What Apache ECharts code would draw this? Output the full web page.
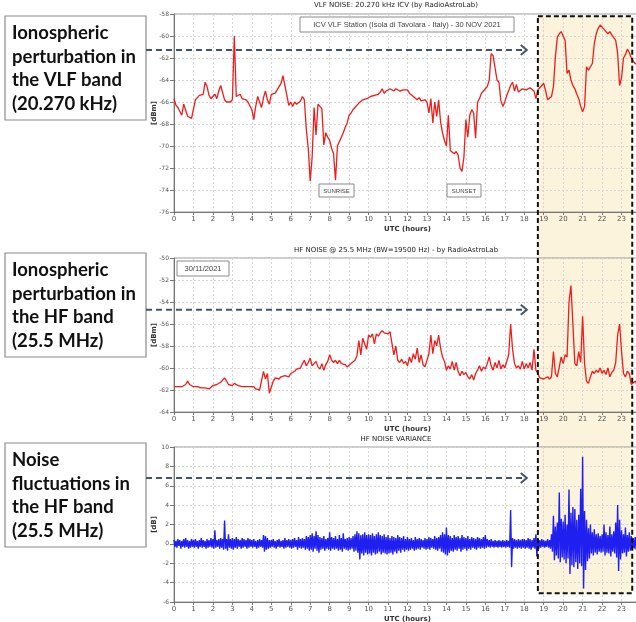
<!DOCTYPE html>
<html>
<head>
<meta charset="utf-8">
<script src="https://cdn.jsdelivr.net/npm/echarts@6/dist/echarts.min.js"></script>
<style>
  html, body { margin: 0; padding: 0; background: #fff; }
  #chart { width: 636px; height: 622px; }
</style>
</head>
<body>
<div id="chart"></div>
<script>
// samples every 0.1 h, starting at 00:00 UTC
const STEP = 0.1;

// VLF noise 20.270 kHz [dBm]
const vlfDbm = [
  -65.7, -66.3, -66.5, -66.6, -67.2, -66.2, -66.3, -67.3, -67.4, -67.5,
  -67.6, -65.8, -65.6, -65.4, -65.4, -65.3, -64.2, -64.6, -65.4, -65.7,
  -65.8, -65.3, -65.7, -65.0, -64.5, -64.6, -65.8, -66.0, -66.1, -66.0,
  -65.8, -60.0, -65.5, -65.6, -65.3, -65.7, -65.7, -65.8, -66.0, -66.1,
  -66.7, -67.6, -66.4, -65.5, -65.6, -66.5, -65.6, -65.0, -65.8, -66.2,
  -65.3, -65.4, -65.2, -64.9, -64.6, -64.3, -63.6, -64.5, -65.4, -66.3,
  -66.0, -66.4, -66.0, -66.2, -66.1, -65.9, -65.5, -65.8, -68.5, -70.2,
  -73.2, -71.0, -66.5, -69.0, -66.2, -66.3, -66.6, -69.9, -68.8, -69.2,
  -69.5, -70.2, -70.7, -73.1, -70.0, -69.6, -69.7, -68.8, -68.3, -67.9,
  -67.2, -67.0, -66.7, -66.5, -66.4, -66.1, -66.0, -65.8, -65.9, -65.7,
  -65.6, -65.5, -65.6, -65.4, -65.4, -65.3, -65.1, -64.8, -65.2, -65.0,
  -64.9, -64.8, -64.9, -65.0, -64.8, -64.7, -65.0, -65.1, -64.9, -64.8,
  -64.9, -65.2, -65.3, -65.5, -65.6, -65.8, -65.6, -65.9, -66.0, -65.8,
  -66.0, -67.0, -65.7, -67.9, -66.0, -67.3, -65.8, -67.8, -68.8, -69.5,
  -70.0, -67.2, -70.4, -70.5, -70.7, -70.5, -70.8, -72.0, -72.3, -71.0,
  -67.6, -69.2, -67.2, -66.7, -67.0, -69.3, -66.0, -65.7, -65.2, -65.0,
  -64.8, -64.6, -64.0, -61.6, -61.8, -61.9, -64.0, -64.2, -65.9, -66.4,
  -66.0, -65.4, -65.5, -64.5, -64.2, -65.0, -64.4, -65.1, -65.0, -64.8,
  -64.8, -64.9, -65.0, -64.7, -64.8, -65.0, -65.7, -64.9, -64.7, -64.5,
  -64.3, -65.0, -65.8, -65.9, -65.5, -64.6, -61.9, -60.1, -59.8, -59.6,
  -59.5, -60.4, -63.4, -63.1, -64.0, -64.5, -64.8, -65.3, -65.7, -66.4,
  -66.9, -66.4, -62.8, -63.1, -63.0, -62.5, -60.7, -59.8, -59.3, -59.0,
  -59.1, -59.4, -59.6, -59.8, -59.6, -59.9, -59.8, -60.4, -61.6, -64.5,
  -63.8, -62.0, -61.7, -61.2, -61.5, -62.0, -62.3, -62.5, -62.6, -62.6
];

// HF noise 25.5 MHz [dBm]
const hfDbm = [
  -61.7, -61.8, -61.7, -61.8, -61.7, -61.6, -61.5, -61.2, -61.5, -61.6,
  -61.7, -61.6, -61.7, -61.6, -61.8, -61.7, -61.8, -61.7, -61.9, -61.8,
  -61.6, -61.7, -61.5, -61.6, -61.3, -61.2, -60.9, -61.2, -61.5, -61.6,
  -61.6, -61.4, -61.5, -61.6, -61.5, -61.7, -61.6, -61.7, -61.6, -61.7,
  -61.8, -61.7, -61.9, -61.8, -62.0, -61.9, -60.3, -61.0, -60.5, -62.3,
  -62.2, -61.2, -60.9, -60.8, -61.0, -60.8, -60.9, -60.7, -60.6, -60.8,
  -60.5, -60.6, -60.3, -60.1, -60.2, -60.0, -59.6, -59.3, -59.8, -59.5,
  -59.1, -59.8, -59.6, -59.4, -59.9, -60.1, -59.6, -60.2, -59.7, -59.4,
  -58.8, -59.3, -59.5, -59.3, -59.6, -59.3, -59.6, -59.5, -59.7, -59.9,
  -59.8, -59.6, -59.5, -59.3, -58.9, -57.5, -58.8, -57.3, -57.2, -58.3,
  -57.0, -57.2, -56.9, -57.8, -56.9, -57.1, -56.8, -56.6, -56.8, -56.7,
  -56.9, -56.7, -56.6, -58.8, -58.0, -59.3, -59.5, -59.2, -59.6, -59.4,
  -59.8, -59.0, -59.5, -58.7, -59.2, -58.2, -59.5, -58.8, -59.7, -59.9,
  -59.8, -58.7, -57.0, -58.7, -57.5, -58.0, -57.0, -58.2, -59.0, -59.4,
  -60.2, -59.8, -60.1, -59.4, -60.2, -59.5, -60.3, -60.7, -60.3, -60.6,
  -60.4, -60.8, -61.0, -60.6, -61.1, -60.5, -60.2, -59.8, -60.3, -59.9,
  -60.1, -59.6, -59.0, -59.8, -60.2, -59.5, -60.0, -59.3, -60.1, -59.7,
  -60.0, -59.9, -58.8, -56.0, -58.3, -59.6, -60.0, -59.8, -60.1, -59.4,
  -60.1, -59.6, -60.0, -59.5, -60.2, -58.3, -60.2, -60.5, -60.9, -61.0,
  -61.0, -61.1, -60.8, -61.0, -60.8, -58.5, -60.5, -60.8, -60.7, -59.0,
  -59.6, -58.8, -59.0, -54.0, -52.5, -56.0, -59.6, -59.8, -58.5, -59.5,
  -55.3, -59.6, -61.2, -61.4, -60.8, -60.3, -60.5, -60.2, -60.4, -60.0,
  -60.5, -60.2, -60.6, -60.0, -60.8, -60.4, -60.2, -59.5, -57.0, -56.0,
  -58.5, -60.5, -60.8, -60.3, -60.5, -61.5, -61.6, -61.2, -61.5, -61.4
];

// HF noise variance [dB]: upper and lower excursion in each 0.1 h bin
const varHigh = [
  0.4, 0.3, 0.5, 0.4, 0.3, 0.5, 0.6, 0.4, 0.3, 0.5,
  0.4, 0.5, 0.3, 0.4, 0.6, 0.4, 0.3, 0.5, 0.4, 0.6,
  0.5, 1.4, 0.4, 0.5, 0.6, 0.5, 2.4, 0.5, 1.0, 0.5,
  0.6, 0.5, 0.7, 0.5, 0.4, 0.6, 0.5, 0.4, 0.6, 0.5,
  0.4, 0.5, 0.3, 0.4, 0.5, 0.4, 0.9, 0.8, 0.6, 0.4,
  0.4, 0.5, 0.3, 0.4, 0.5, 0.3, 0.4, 0.6, 0.4, 0.5,
  0.4, 0.5, 0.6, 0.4, 0.7, 0.5, 0.6, 0.5, 0.8, 0.7,
  0.9, 1.1, 0.8, 1.3, 0.9, 0.7, 0.6, 0.8, 0.5, 0.6,
  1.2, 0.7, 0.6, 0.8, 0.5, 0.9, 0.6, 1.1, 0.5, 0.6,
  0.7, 0.6, 0.8, 1.0, 1.3, 1.1, 0.9, 1.0, 1.2, 0.9,
  1.0, 0.9, 1.1, 0.8, 1.0, 1.2, 0.9, 0.8, 1.0, 0.7,
  0.9, 0.6, 0.8, 0.7, 0.6, 0.9, 0.7, 0.6, 0.8, 0.5,
  0.7, 0.5, 0.6, 0.4, 0.7, 0.5, 0.6, 0.5, 0.4, 0.6,
  0.5, 0.7, 0.6, 0.5, 0.8, 0.6, 0.7, 0.9, 1.2, 1.0,
  1.7, 0.9, 0.8, 0.6, 0.9, 0.7, 0.8, 0.6, 0.9, 0.7,
  0.6, 0.8, 0.5, 0.7, 0.6, 0.5, 0.7, 0.6, 0.5, 0.7,
  0.9, 0.5, 0.4, 0.5, 0.3, 0.4, 0.3, 0.4, 0.3, 0.4,
  0.3, 0.4, 0.3, 3.5, 0.6, 0.5, 0.4, 0.5, 0.4, 0.5,
  0.5, 0.4, 0.6, 0.5, 0.4, 0.6, 1.0, 0.5, 0.4, 0.5,
  0.4, 0.3, 0.5, 0.4, 1.0, 2.9, 1.8, 2.2, 5.3, 2.6,
  2.3, 3.0, 2.0, 5.6, 3.2, 3.8, 3.6, 2.5, 3.0, 5.7,
  9.0, 3.4, 2.5, 1.6, 2.0, 1.2, 1.5, 1.0, 1.1, 0.8,
  1.0, 2.0, 1.2, 0.9, 1.8, 1.0, 1.3, 2.2, 4.0, 2.5,
  1.4, 1.0, 1.7, 0.9, 1.2, 0.8, 0.6, 0.7, 0.6, 0.5
];
const varLow = [
  -0.3, -0.4, -0.2, -0.5, -0.3, -0.4, -0.3, -0.5, -0.4, -0.3,
  -0.4, -0.3, -0.5, -0.3, -0.4, -0.3, -0.5, -0.4, -0.3, -0.4,
  -0.5, -0.4, -0.3, -0.5, -0.4, -0.6, -0.5, -0.7, -0.4, -0.5,
  -0.6, -0.4, -0.5, -0.3, -0.5, -0.4, -0.3, -0.5, -0.4, -0.3,
  -0.4, -0.3, -0.5, -0.4, -0.3, -0.4, -0.8, -0.6, -0.5, -0.4,
  -0.3, -0.4, -0.5, -0.3, -0.4, -0.3, -0.5, -0.4, -0.3, -0.4,
  -0.5, -0.4, -0.3, -0.6, -0.4, -0.5, -0.4, -0.6, -0.5, -0.7,
  -0.6, -0.8, -0.5, -0.7, -0.9, -0.6, -0.5, -0.7, -0.5, -0.6,
  -0.7, -0.5, -0.6, -0.5, -0.7, -0.6, -0.8, -0.5, -0.6, -0.7,
  -0.6, -0.5, -0.8, -0.7, -0.9, -1.6, -1.0, -1.2, -0.9, -1.1,
  -1.0, -1.2, -0.9, -1.1, -1.0, -0.8, -1.1, -0.9, -1.0, -1.1,
  -1.0, -0.9, -1.1, -0.8, -1.0, -0.7, -0.9, -0.6, -0.8, -0.6,
  -0.7, -0.6, -0.5, -0.7, -0.6, -0.5, -0.6, -0.4, -0.5, -0.6,
  -0.5, -0.6, -0.4, -0.5, -0.6, -0.7, -0.5, -0.8, -0.9, -1.1,
  -1.2, -0.9, -0.7, -0.8, -0.6, -0.7, -0.5, -0.8, -0.6, -0.5,
  -0.7, -0.5, -0.6, -0.4, -0.5, -0.6, -0.4, -0.5, -0.4, -0.5,
  -0.4, -0.3, -0.4, -0.3, -0.4, -0.3, -0.4, -0.3, -0.4, -0.3,
  -0.4, -0.3, -0.4, -2.4, -0.5, -0.4, -0.5, -0.4, -0.5, -0.4,
  -0.5, -0.4, -0.5, -0.6, -0.4, -0.5, -1.3, -0.5, -0.4, -0.3,
  -0.4, -0.3, -0.4, -0.5, -0.8, -1.7, -1.2, -1.5, -1.9, -1.4,
  -1.6, -2.0, -1.5, -3.1, -2.2, -2.4, -1.9, -2.6, -2.0, -2.3,
  -4.6, -2.7, -1.8, -1.5, -1.0, -1.2, -0.9, -1.1, -0.8, -0.9,
  -0.8, -1.2, -0.9, -1.0, -1.3, -0.8, -1.0, -1.4, -2.8, -1.6,
  -1.0, -0.9, -1.3, -0.8, -0.7, -0.6, -0.5, -0.6, -0.5, -0.4
];

// axis ranges [min, max, interval]
const hourRange = [0, 24, 1];
const vlfRange = [-76, -58, 2];
const hfRange = [-64, -50, 2];
const varRange = [-6, 10, 2];

// perturbation window (hours) and arrow end (hours)
const eventStart = 18.7, eventEnd = 23.55, arrowEnd = 18.13;

const leftLabels = [
  'Ionospheric\nperturbation in\nthe VLF band\n(20.270 kHz)',
  'Ionospheric\nperturbation in\nthe HF band\n(25.5 MHz)',
  'Noise\nfluctuations in\nthe HF band\n(25.5 MHz)'
];
const panelTitles = [
  'VLF NOISE: 20.270 kHz ICV (by RadioAstroLab)',
  'HF NOISE @ 25.5 MHz (BW=19500 Hz) - by RadioAstroLab',
  'HF NOISE VARIANCE'
];

const toPoints = arr => arr.map((v, i) => [+(i * STEP).toFixed(2), v]);
const varPoints = [];
varHigh.forEach((hi, i) => {
  varPoints.push([i * STEP, hi]);
  varPoints.push([i * STEP + STEP / 2, varLow[i]]);
});

const small = 'DejaVu Sans';

function xAxisFor(i) {
  return {
    type: 'value', gridIndex: i,
    min: hourRange[0], max: hourRange[1], interval: hourRange[2],
    name: 'UTC (hours)', nameLocation: 'middle', nameGap: 14, nameMoveOverlap: false,
    nameTextStyle: { fontSize: 7, fontWeight: 'bold', color: '#333', fontFamily: small },
    axisLine: { onZero: false, lineStyle: { color: '#777' } },
    axisTick: { length: 3, lineStyle: { color: '#777' } },
    axisLabel: { fontSize: 7, color: '#555', margin: 4, fontFamily: small },
    splitLine: { show: true, lineStyle: { color: '#d4d4d4', type: [2, 2] } }
  };
}
function yAxisFor(i, range, name) {
  return {
    type: 'value', gridIndex: i,
    min: range[0], max: range[1], interval: range[2],
    name: name, nameLocation: 'middle', nameGap: 16, nameRotate: 90, nameMoveOverlap: false,
    nameTextStyle: { fontSize: 7, fontWeight: 'bold', color: '#333', fontFamily: small },
    axisLine: { show: true, lineStyle: { color: '#777' } },
    axisTick: { show: true, length: 4, lineStyle: { color: '#777' } },
    axisLabel: { fontSize: 6, color: '#555', margin: 5, fontFamily: small },
    splitLine: { show: true, lineStyle: { color: '#d4d4d4', type: [2, 2] } }
  };
}
const gridStyle = {
  show: true, borderColor: '#999', borderWidth: 1, backgroundColor: 'transparent',
  outerBoundsMode: 'none', containLabel: false
};

const chart = echarts.init(document.getElementById('chart'));
chart.setOption({
  backgroundColor: '#fff',
  animation: false,
  grid: [
    Object.assign({ left: 174, top: 14, width: 467, height: 198 }, gridStyle),
    Object.assign({ left: 174, top: 258, width: 467, height: 154 }, gridStyle),
    Object.assign({ left: 174, top: 447, width: 467, height: 155 }, gridStyle)
  ],
  xAxis: [xAxisFor(0), xAxisFor(1), xAxisFor(2)],
  yAxis: [
    yAxisFor(0, vlfRange, '[dBm]'),
    yAxisFor(1, hfRange, '[dBm]'),
    yAxisFor(2, varRange, '[dB]')
  ],
  series: [
    { type: 'line', xAxisIndex: 0, yAxisIndex: 0, data: toPoints(vlfDbm), showSymbol: false,
      lineStyle: { color: '#f01c1c', width: 1.3 }, z: 3 },
    { type: 'line', xAxisIndex: 1, yAxisIndex: 1, data: toPoints(hfDbm), showSymbol: false,
      lineStyle: { color: '#f01c1c', width: 1.3 }, z: 3 },
    { type: 'line', xAxisIndex: 2, yAxisIndex: 2, data: varPoints, showSymbol: false,
      lineStyle: { color: '#1f1ff0', width: 1.4 }, z: 3 }
  ]
});

// annotations: event window, arrows, label boxes
const tl = chart.convertToPixel({ gridIndex: 0 }, [eventStart, -58.2]);
const br = chart.convertToPixel({ gridIndex: 2 }, [eventEnd, -5.1]);
const arrowX = chart.convertToPixel({ gridIndex: 0 }, [arrowEnd, -60])[0];
const arrowY = [
  chart.convertToPixel({ gridIndex: 0 }, [0, -61.27])[1],
  chart.convertToPixel({ gridIndex: 1 }, [0, -54.7])[1],
  chart.convertToPixel({ gridIndex: 2 }, [0, 6.8])[1]
];
const boxTops = [16, 253, 443];

const graphics = [
  { type: 'rect', z: -1, shape: { x: tl[0], y: tl[1], width: br[0] - tl[0], height: br[1] - tl[1] },
    style: { fill: '#fcf3dc' } },
  { type: 'rect', z: 20, shape: { x: tl[0], y: tl[1], width: br[0] - tl[0], height: br[1] - tl[1] },
    style: { fill: 'none', stroke: '#111', lineWidth: 2, lineDash: [5, 3] } }
];
panelTitles.forEach((t, i) => {
  graphics.push({ type: 'text', x: 396, y: [5, 250, 439][i], z: 10,
    style: { text: t, font: '7px "DejaVu Sans"', fill: '#222', align: 'center', verticalAlign: 'middle' } });
});
leftLabels.forEach((t, i) => {
  graphics.push({ type: 'rect', z: 10, shape: { x: 5, y: boxTops[i], width: 141, height: 104 },
    style: { fill: '#fff', stroke: '#8c8c8c', lineWidth: 1.2 } });
  graphics.push({ type: 'text', z: 11, x: 12, y: boxTops[i] + 5,
    style: { text: t, font: 'bold 18.5px Lato', lineHeight: 23.7, fill: '#111' } });
  const y = arrowY[i];
  graphics.push({ type: 'line', z: 12, shape: { x1: 146, y1: y, x2: arrowX - 1, y2: y },
    style: { stroke: '#44546a', lineWidth: 2, lineDash: [6, 4] } });
  graphics.push({ type: 'polyline', z: 12, shape: { points: [[arrowX - 6, y - 5], [arrowX, y], [arrowX - 6, y + 5]] },
    style: { stroke: '#44546a', lineWidth: 2, fill: 'none' } });
});
function noteBox(x, y, w, h, text, size) {
  graphics.push({ type: 'rect', z: 10, shape: { x: x, y: y, width: w, height: h },
    style: { fill: '#fff', stroke: '#8a8a8a', lineWidth: 1 } });
  graphics.push({ type: 'text', z: 11, x: x + w / 2, y: y + h / 2 + 0.5,
    style: { text: text, font: size + 'px "Liberation Sans"', fill: '#444', align: 'center', verticalAlign: 'middle' } });
}
noteBox(300, 17, 214, 15, 'ICV VLF Station (Isola di Tavolara - Italy) - 30 NOV 2021', 7.5);
noteBox(177, 261, 52, 15, '30/11/2021', 7.5);
noteBox(319, 184, 35, 13, 'SUNRISE', 6);
noteBox(447, 184, 34, 13, 'SUNSET', 6);

chart.setOption({ graphic: graphics });
window.addEventListener('resize', chart.resize);
</script>
</body>
</html>
